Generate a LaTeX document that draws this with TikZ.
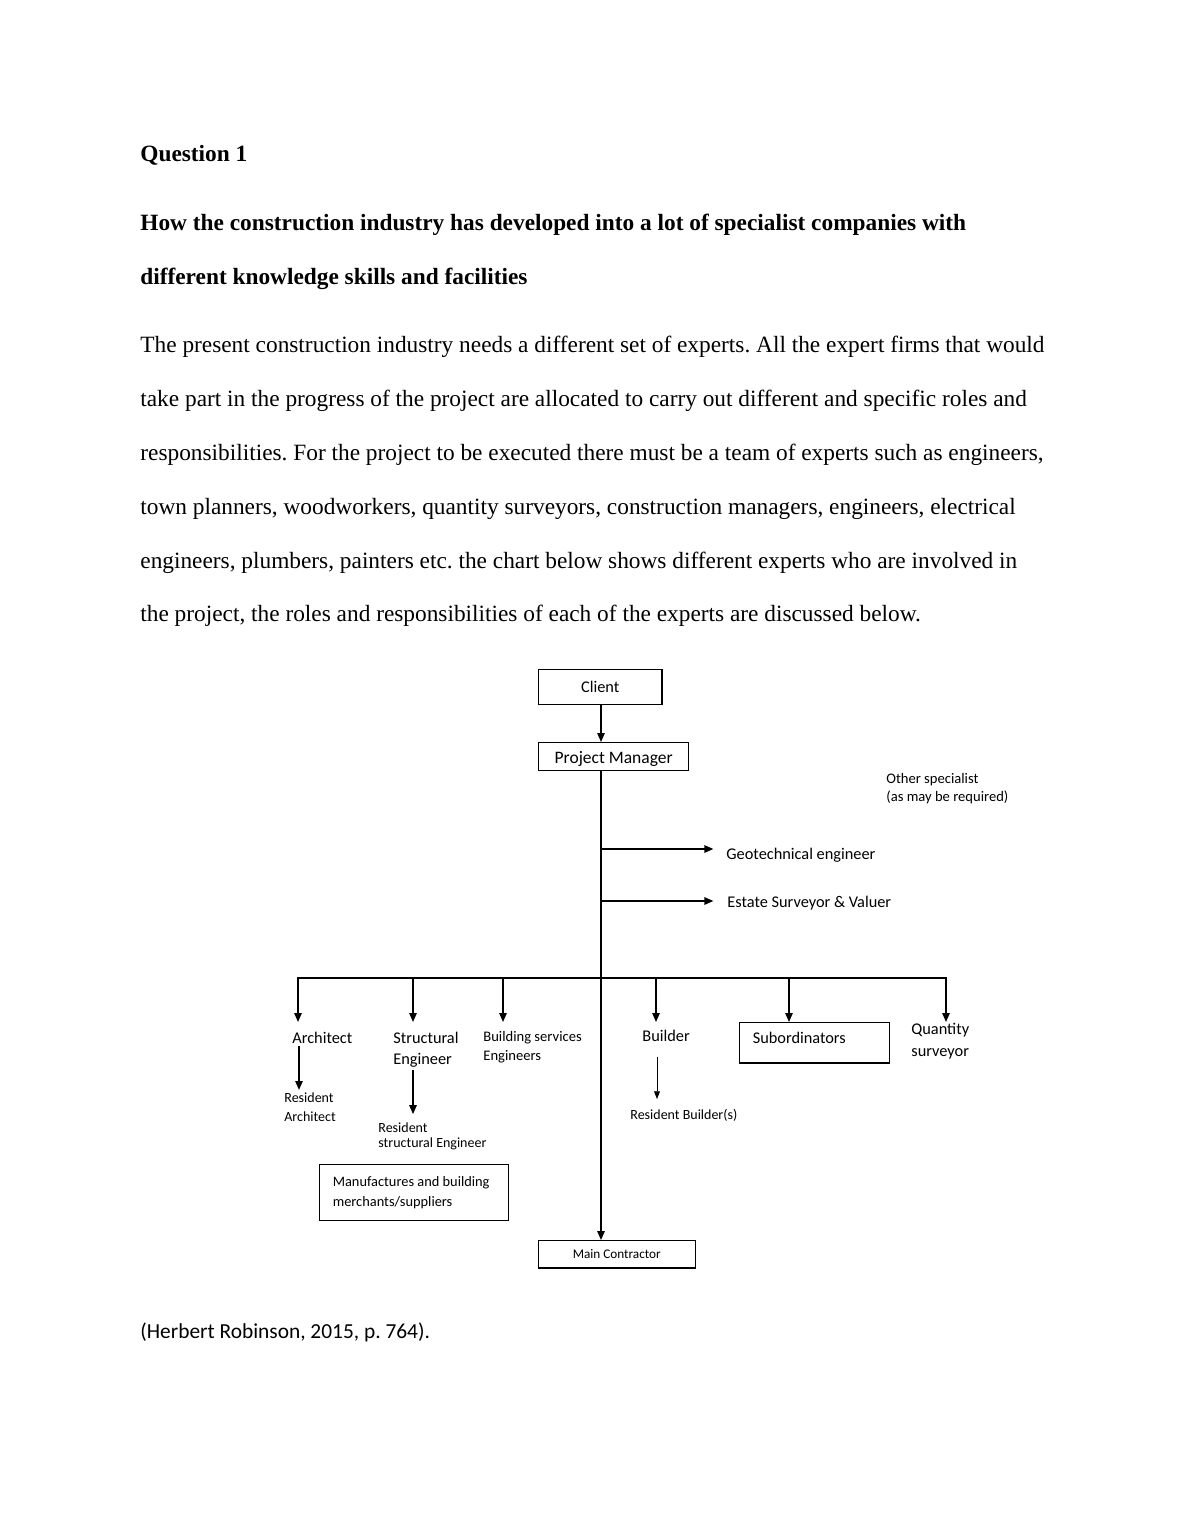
\documentclass[tikz,border=0pt]{standalone}
\usepackage{fontspec}
\setmainfont{Liberation Serif}
\newfontfamily\calib{Carlito}
\usetikzlibrary{arrows.meta}
\frenchspacing
\begin{document}
\begin{tikzpicture}[x=0.5143pt,y=-0.5143pt,
  line/.style={line width=0.75pt},
  arr/.style={line width=0.75pt,-{Triangle[length=4.6pt,width=3.8pt]}},
  thinarr/.style={line width=0.45pt,-{Triangle[length=4pt,width=3pt]}},
  body/.style={anchor=base west,inner sep=0,font=\fontsize{12}{14}\selectfont},
  head/.style={anchor=base west,inner sep=0,font=\fontsize{12}{14}\selectfont\bfseries},
  lab/.style={anchor=base west,inner sep=0,font=\calib\fontsize{8.4}{10}\selectfont},
  mlab/.style={anchor=base west,inner sep=0,font=\calib\fontsize{7.5}{9}\selectfont},
  slab/.style={anchor=base west,inner sep=0,font=\calib\fontsize{7.2}{9}\selectfont},
  box/.style={draw,line width=0.75pt,inner sep=0,anchor=north west},
]
\useasboundingbox[fill=white] (0,0) rectangle (1190,1540);

% ---- text ----
\node[head] (q) at (140,161) {Question 1};
\node[head] (h1) at (140,230) {How the construction industry has developed into a lot of specialist companies with};
\node[head] (h2) at (140,284) {different knowledge skills and facilities};
\node[body] (p1) at (140,352) {The present construction industry needs a different set of experts. All the expert firms that would};
\node[body] (p2) at (140,406) {take part in the progress of the project are allocated to carry out different and specific roles and};
\node[body] (p3) at (140,460) {responsibilities. For the project to be executed there must be a team of experts such as engineers,};
\node[body] (p4) at (140,514) {town planners, woodworkers, quantity surveyors, construction managers, engineers, electrical};
\node[body] (p5) at (140,568) {engineers, plumbers, painters etc. the chart below shows different experts who are involved in};
\node[body] (p6) at (140,621) {the project, the roles and responsibilities of each of the experts are discussed below.};

% ---- chart ----
\coordinate (tx) at (601,0);
\node[box,font=\calib\fontsize{8.4}{10}\selectfont,text height=11.8pt,text depth=6.2pt] (client) at (538,669) {\makebox[63.3pt][c]{Client}};
\node[box,font=\calib\fontsize{9}{10}\selectfont,text height=10.8pt,text depth=3.6pt] (pm) at (538,742) {\makebox[77.1pt][c]{Project Manager}};
\node[box,font=\calib\fontsize{6.8}{8}\selectfont,text height=9.3pt,text depth=4.6pt] (mc) at (538,1240) {\makebox[80.7pt][l]{\hspace{17.5pt}Main Contractor}};

\draw[arr] (client.south -| tx) -- (pm.north -| tx);
\draw[arr] (pm.south -| tx) -- (mc.north -| tx);

\node[mlab] (os1) at (886,783) {Other specialist};
\node[mlab] (os2) at (886,801) {(as may be required)};

\node[lab] (geo) at (726,859) {Geotechnical engineer};
\node[lab] (est) at (727,907) {Estate Surveyor \& Valuer};
\coordinate (j1) at (601,849);
\coordinate (j2) at (601,901);
\draw[arr] (j1) -- ([xshift=-6.5pt]geo.west |- j1);
\draw[arr] (j2) -- ([xshift=-7pt]est.west |- j2);

% bus
\coordinate (b1) at (298,978);
\coordinate (b2) at (413,978);
\coordinate (b3) at (503,978);
\coordinate (b4) at (656,978);
\coordinate (b5) at (789,978);
\coordinate (b6) at (946,978);
\draw[line] ([xshift=-0.4pt]b1) -- ([xshift=0.4pt]b6);

\node[lab] (arch) at (292,1043) {Architect};
\node[lab] (str1) at (393,1043) {Structural};
\node[lab] (str2) at (393,1064) {Engineer};
\node[mlab] (bse1) at (483,1041) {Building services};
\node[mlab] (bse2) at (483,1060) {Engineers};
\node[lab] (bld) at (642,1041) {Builder};
\node[box,font=\calib\fontsize{8.4}{10}\selectfont,text height=10.8pt,text depth=9.8pt] (sub) at (739,1022) {\makebox[77.1pt][l]{\hspace{6.7pt}Subordinators}};
\node[lab] (qs1) at (911,1034) {Quantity};
\node[lab] (qs2) at (911,1056) {surveyor};

\draw[arr] (b1) -- (b1 |- sub.north);
\draw[arr] (b2) -- (b2 |- sub.north);
\draw[arr] (b3) -- (b3 |- sub.north);
\draw[arr] (b4) -- (b4 |- sub.north);
\draw[arr] (b5) -- (sub.north -| b5);
\draw[arr] (b6) -- (b6 |- sub.north);

\node[slab] (ra1) at (284,1102) {Resident};
\node[slab] (ra2) at (284,1121) {Architect};
\node[slab] (rs1) at (378,1132) {Resident};
\node[slab] (rs2) at (378,1147) {structural Engineer};
\node[slab] (rb) at (630,1119) {Resident Builder(s)};

\draw[arr,shorten <=1.5pt,shorten >=1pt] (arch.south -| 299,0) -- (ra1.north -| 299,0);
\draw[arr,shorten <=1.5pt,shorten >=4pt] (str2.south -| b2) -- (rs1.north -| b2);
\draw[thinarr,shorten <=8pt,shorten >=4.8pt] (bld.south -| 657,0) -- (rb.north -| 657,0);

\node[box,font=\calib\fontsize{7.4}{9.8}\selectfont,minimum height=28.8pt] (mfr) at (319,1164) {\makebox[97.2pt][l]{\hspace{6.7pt}\begin{tabular}[c]{@{}l@{}}Manufactures and building\\[0.4pt]merchants/suppliers\end{tabular}}};

\node[anchor=base west,inner sep=0,font=\calib\fontsize{11}{13}\selectfont] (cite) at (140,1338) {(Herbert Robinson, 2015, p. 764).};
\end{tikzpicture}
\end{document}
